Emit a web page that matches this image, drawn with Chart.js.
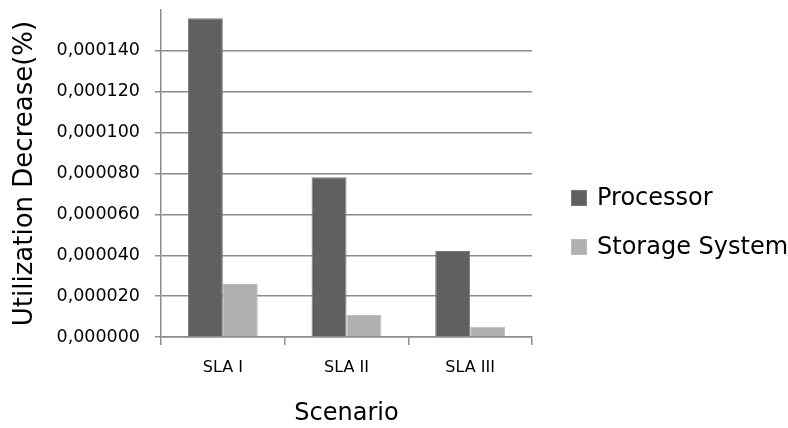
<!DOCTYPE html>
<html>
<head>
<meta charset="utf-8">
<script src="https://cdn.jsdelivr.net/npm/chart.js@4.4.1/dist/chart.umd.min.js"></script>
<style>
  html, body { margin: 0; padding: 0; background: #ffffff; }
  #wrap { width: 788px; height: 428px; position: relative; }
</style>
</head>
<body>
<div id="wrap"><canvas id="chart" width="788" height="428"></canvas></div>
<script>
// Scenarios on the x axis
const scenarios = ['SLA I', 'SLA II', 'SLA III'];
// Utilization decrease (%) per scenario
const processor = [0.0001560, 0.0000782, 0.0000421];
const storageSystem = [0.0000259, 0.0000108, 0.0000050];
// Series names
const seriesNames = ['Processor', 'Storage System'];
// Value axis range and step
const yMin = 0;
const yMax = 0.00016;
const yStep = 0.00002;

const FONT = "'DejaVu Sans', sans-serif";
const seriesColors = ['#606060', '#b0b0b0'];
const seriesBorders = ['#787878', '#bcbcbc'];

const fmt = v => v.toFixed(6).replace('.', ',');

// Legend drawn at the right side of the canvas
const sideLegend = {
  id: 'sideLegend',
  afterDraw(chart) {
    const ctx = chart.ctx;
    const boxX = 571, box = 16;
    const centers = [198, 247];
    ctx.save();
    ctx.font = '24px ' + FONT;
    ctx.textBaseline = 'middle';
    ctx.textAlign = 'left';
    chart.data.datasets.forEach((ds, i) => {
      const cy = centers[i];
      ctx.fillStyle = ds.backgroundColor;
      ctx.fillRect(boxX, cy - box / 2, box, box);
      ctx.strokeStyle = ds.borderColor;
      ctx.lineWidth = 1;
      ctx.strokeRect(boxX + 0.5, cy - box / 2 + 0.5, box - 1, box - 1);
      ctx.fillStyle = '#000000';
      ctx.fillText(ds.label, 597, cy + 1);
    });
    ctx.restore();
  }
};

new Chart(document.getElementById('chart'), {
  type: 'bar',
  data: {
    labels: scenarios,
    datasets: [
      {
        label: seriesNames[0],
        data: processor,
        backgroundColor: seriesColors[0],
        borderColor: seriesBorders[0],
        borderWidth: 1,
        barPercentage: 1.0,
        categoryPercentage: 0.565
      },
      {
        label: seriesNames[1],
        data: storageSystem,
        backgroundColor: seriesColors[1],
        borderColor: seriesBorders[1],
        borderWidth: 1,
        barPercentage: 1.0,
        categoryPercentage: 0.565
      }
    ]
  },
  options: {
    responsive: false,
    animation: false,
    devicePixelRatio: 1,
    layout: { padding: { left: 0, right: 256, top: 10, bottom: 0 } },
    plugins: {
      legend: { display: false },
      tooltip: { enabled: false },
      title: { display: false }
    },
    scales: {
      x: {
        offset: true,
        afterFit(scale) {
          scale.height = 91;
          scale.paddingLeft = 0;
          scale.paddingRight = 0;
        },
        grid: {
          display: true,
          offset: true,
          drawOnChartArea: false,
          drawTicks: true,
          tickLength: 8,
          color: '#8c8c8c',
          lineWidth: 1.5
        },
        border: { display: true, color: '#8c8c8c', width: 1.5 },
        ticks: {
          font: { family: FONT, size: 16 },
          color: '#000000',
          padding: 13
        },
        title: {
          display: true,
          text: 'Scenario',
          font: { family: FONT, size: 24 },
          color: '#000000',
          padding: { top: 10, bottom: 0 }
        }
      },
      y: {
        min: yMin,
        max: yMax,
        afterFit(scale) {
          scale.width = 161;
          scale.paddingTop = 0;
          scale.paddingBottom = 0;
        },
        ticks: {
          stepSize: yStep,
          font: { family: FONT, size: 17.5 },
          color: '#000000',
          padding: 15,
          callback: (v) => (Math.abs(v - yMax) < 1e-12 ? '' : fmt(v))
        },
        grid: {
          color: (c) => (c.tick && Math.abs(c.tick.value - yMax) < 1e-12 ? 'rgba(0,0,0,0)' : '#8c8c8c'),
          lineWidth: 1.5,
          tickLength: 6,
          drawTicks: true
        },
        border: { display: true, color: '#8c8c8c', width: 1.5 },
        title: {
          display: true,
          text: 'Utilization Decrease(%)',
          font: { family: FONT, size: 26 },
          color: '#000000',
          padding: { top: 10, bottom: 0 }
        }
      }
    }
  },
  plugins: [sideLegend]
});
</script>
</body>
</html>
